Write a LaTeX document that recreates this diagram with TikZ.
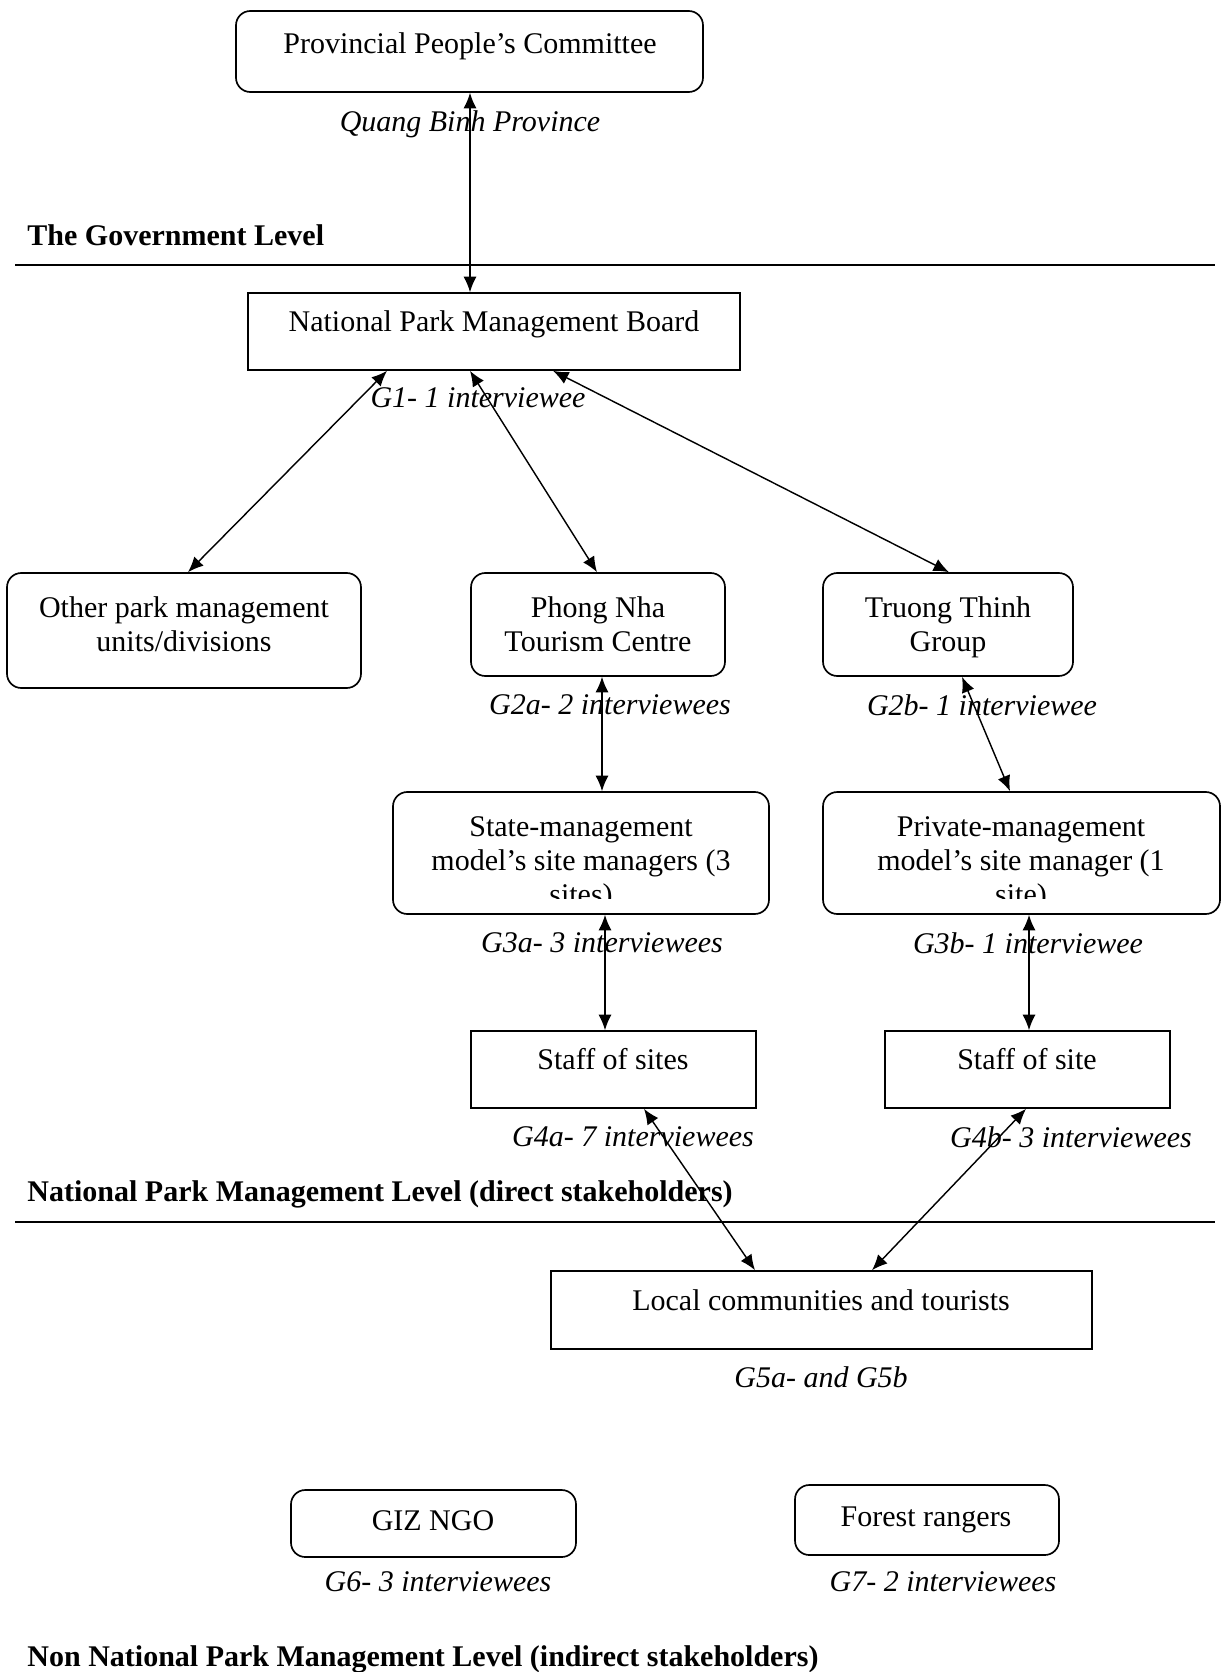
\documentclass[tikz,border=0pt]{standalone}
\usepackage{fontspec}
\setmainfont{Liberation Serif}
\usetikzlibrary{positioning,fit,arrows.meta}

\tikzset{
  box/.style={draw, line width=0.7pt, inner sep=0pt},
  rbox/.style={box, rounded corners=6pt},
  txt/.style={align=center, inner sep=0pt, font=\fontsize{12.6}{14.3}\selectfont},
  note/.style={txt, font=\fontsize{12.6}{14.3}\selectfont\itshape},
  lvl/.style={anchor=west, inner sep=0pt, font=\fontsize{12.6}{14.3}\selectfont\bfseries},
  link/.style={{Latex[length=6.5pt,width=5.5pt]}-{Latex[length=6.5pt,width=5.5pt]}, line width=0.6pt},
  level line/.style={line width=0.6pt}
}

\begin{document}
\begin{tikzpicture}[x=0.42pt,y=-0.42pt]
\useasboundingbox (0,0) rectangle (1223,1672);

\node[rbox, fit={(236,11) (703,92)}] (ppc) {};
\node[txt] (ppctext) at (470,46) {Provincial People’s Committee};
\node[note] (qbp) at (470,124) {Quang Binh Province};

\node[lvl] (govlevel) at (27,235) {The Government Level};
\coordinate (govL) at (15,265);
\coordinate (govR) at (1215,265);
\draw[level line] (govL) -- (govR);

\node[box, fit={(248,293) (740,370)}] (npmb) {};
\node[txt] (npmbtext) at (494,324) {National Park Management Board};
\node[note] (g1) at (478,398) {G1- 1 interviewee};

\node[rbox, fit={(7,573) (361,688)}] (other) {};
\node[txt] (othertext) at (184,624) {Other park management\\units/divisions};
\node[rbox, fit={(471,573) (725,676)}] (pnt) {};
\node[txt] (pnttext) at (598,624) {Phong Nha\\Tourism Centre};
\node[note] (g2a) at (610,705) {G2a- 2 interviewees};
\node[rbox, fit={(823,573) (1073,676)}] (ttg) {};
\node[txt] (ttgtext) at (948,627) {Truong Thinh\\Group};
\node[note] (g2b) at (982,705) {G2b- 1 interviewee};

\node[rbox, fit={(393,792) (769,914)}] (smm) {};
\begin{scope}
\clip (393,792) rectangle (769,898);
\node[txt] (smmtext) at (581,864) {State-management\\model’s site managers (3\\sites)};
\end{scope}
\node[note] (g3a) at (602,943) {G3a- 3 interviewees};
\node[rbox, fit={(823,792) (1220,914)}] (pmm) {};
\begin{scope}
\clip (823,792) rectangle (1220,898);
\node[txt] (pmmtext) at (1021,864) {Private-management\\model’s site manager (1\\site)};
\end{scope}
\node[note] (g3b) at (1028,943) {G3b- 1 interviewee};

\node[box, fit={(471,1031) (756,1108)}] (sos) {};
\node[txt] (sostext) at (613,1059) {Staff of sites};
\node[note] (g4a) at (633,1137) {G4a- 7 interviewees};
\node[box, fit={(885,1031) (1170,1108)}] (sst) {};
\node[txt] (ssttext) at (1027,1059) {Staff of site};
\node[note] (g4b) at (1071,1137) {G4b- 3 interviewees};

\node[lvl] (nplevel) at (27,1194) {National Park Management Level (direct stakeholders)};
\coordinate (npL) at (15,1222);
\coordinate (npR) at (1215,1222);
\draw[level line] (npL) -- (npR);

\node[box, fit={(551,1271) (1092,1349)}] (lct) {};
\node[txt] (lcttext) at (821,1300) {Local communities and tourists};
\node[note] (g5) at (821,1377) {G5a- and G5b};

\node[rbox, fit={(291,1490) (576,1557)}] (giz) {};
\node[txt] (giztext) at (433,1521) {GIZ NGO};
\node[note] (g6) at (438,1582) {G6- 3 interviewees};
\node[rbox, fit={(795,1485) (1059,1555)}] (fr) {};
\node[txt] (frtext) at (926,1520) {Forest rangers};
\node[note] (g7) at (943,1582) {G7- 2 interviewees};

\node[lvl] (nonlevel) at (27,1659) {Non National Park Management Level (indirect stakeholders)};

\draw[link] (470,0 |- ppc.south) -- (470,0 |- npmb.north);
\draw[link] (387,0 |- npmb.south) -- (188,0 |- other.north);
\draw[link] (470,0 |- npmb.south) -- (597,0 |- pnt.north);
\draw[link] (553,0 |- npmb.south) -- (949,0 |- ttg.north);
\draw[link] (602,0 |- pnt.south) -- (602,0 |- smm.north);
\draw[link] (962,0 |- ttg.south) -- (1010,0 |- pmm.north);
\draw[link] (605,0 |- smm.south) -- (605,0 |- sos.north);
\draw[link] (1029,0 |- pmm.south) -- (1029,0 |- sst.north);
\draw[link] (644,0 |- sos.south) -- (755,0 |- lct.north);
\draw[link] (1026,0 |- sst.south) -- (872,0 |- lct.north);
\end{tikzpicture}
\end{document}
